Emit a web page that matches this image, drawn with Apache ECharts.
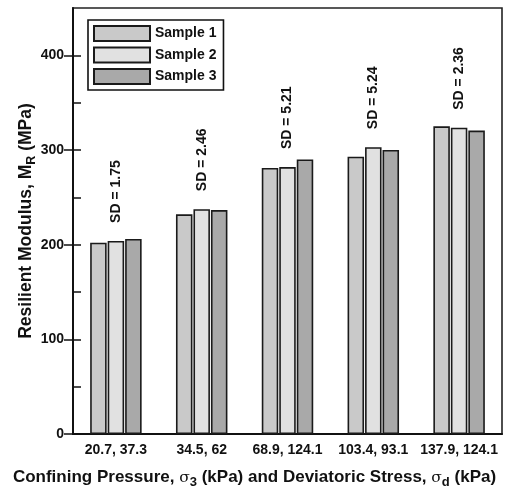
<!DOCTYPE html>
<html>
<head>
<meta charset="utf-8">
<script src="https://cdn.jsdelivr.net/npm/echarts@6/dist/echarts.min.js"></script>
<style>html,body{margin:0;padding:0;background:#fff}#c{width:522px;height:494px}</style>
</head>
<body>
<div id="c"></div>
<script>
const categories = ['20.7, 37.3', '34.5, 62', '68.9, 124.1', '103.4, 93.1', '137.9, 124.1'];
const sample1 = [202, 232, 281, 293, 325];
const sample2 = [204, 237.5, 282, 303, 323.5];
const sample3 = [206, 236.5, 290, 300, 320.5];
const sdLabels = ['SD = 1.75', 'SD = 2.46', 'SD = 5.21', 'SD = 5.24', 'SD = 2.36'];
const yTickLabels = [0, 100, 200, 300, 400];
const yMinorTicks = [0, 50, 100, 150, 200, 250, 300, 350, 400];
const seriesNames = ['Sample 1', 'Sample 2', 'Sample 3'];

const FONT = '"Liberation Sans", Arial, sans-serif';
const colors = ['#c9c9c9', '#e1e1e1', '#a9a9a9'];
const chart = echarts.init(document.getElementById('c'), null, {renderer: 'canvas'});

function barSeries(name, data, color, withLabel) {
  const s = {
    name: name,
    type: 'bar',
    yAxisIndex: 0,
    data: data,
    barWidth: 16.5,
    barGap: '6%',
    itemStyle: {color: color, borderColor: '#1a1a1a', borderWidth: 1.6},
    emphasis: {disabled: true},
    animation: false
  };
  if (withLabel) {
    s.label = {
      show: true,
      position: 'top',
      rotate: 90,
      align: 'left',
      verticalAlign: 'middle',
      distance: 18,
      fontFamily: FONT,
      fontWeight: 'bold',
      fontSize: 14,
      color: '#111',
      formatter: p => sdLabels[p.dataIndex]
    };
  }
  return s;
}

chart.setOption({
  backgroundColor: '#fff',
  animation: false,
  grid: {left: 73, right: 20, top: 8, bottom: 59, show: true, borderColor: '#222', borderWidth: 1.6, backgroundColor: 'transparent'},
  legend: {
    orient: 'vertical',
    left: 88, top: 20,
    data: seriesNames,
    icon: 'rect',
    itemWidth: 56, itemHeight: 15, itemGap: 4.5,
    padding: [5, 7, 5, 5],
    borderColor: '#111', borderWidth: 1.6,
    textStyle: {fontFamily: FONT, fontWeight: 'bold', fontSize: 14, color: '#111'},
    selectedMode: false
  },
  xAxis: {
    type: 'category',
    data: categories,
    boundaryGap: true,
    axisLine: {lineStyle: {color: '#111', width: 2}},
    axisTick: {show: false},
    axisLabel: {fontFamily: FONT, fontWeight: 'bold', fontSize: 14, color: '#111', margin: 9, interval: 0},
    name: '{a|Confining Pressure, }{g|σ}{s|3}{a| (kPa) and Deviatoric Stress, }{g|σ}{s|d}{a| (kPa)}',
    nameLocation: 'middle',
    nameGap: 32,
    nameMoveOverlap: false,
    nameTextStyle: {
      padding: [0, 66, 0, 0],
      rich: {
        a: {fontFamily: FONT, fontWeight: 'bold', fontSize: 17, color: '#111', lineHeight: 23},
        g: {fontFamily: '"DejaVu Serif", serif', fontSize: 15.5, color: '#111', lineHeight: 23},
        s: {fontFamily: FONT, fontWeight: 'bold', fontSize: 13, color: '#111', lineHeight: 13, verticalAlign: 'bottom'}
      }
    }
  },
  yAxis: [{
    type: 'value',
    min: 0, max: 450, interval: 50,
    axisLine: {show: true, lineStyle: {color: '#111', width: 2}},
    axisTick: {show: true, inside: true, length: 8, lineStyle: {color: '#111', width: 1.5}, customValues: yMinorTicks},
    axisLabel: {fontFamily: FONT, fontWeight: 'bold', fontSize: 14, color: '#111', margin: 9, customValues: yTickLabels},
    splitLine: {show: false},
    name: '{a|Resilient Modulus, M}{s|R}{a| (MPa)}',
    nameLocation: 'middle',
    nameGap: 35,
    nameRotate: 90,
    nameMoveOverlap: false,
    nameTextStyle: {
      rich: {
        a: {fontFamily: FONT, fontWeight: 'bold', fontSize: 17.5, color: '#111', lineHeight: 24},
        s: {fontFamily: FONT, fontWeight: 'bold', fontSize: 12.5, color: '#111', lineHeight: 12, verticalAlign: 'bottom'}
      }
    }
  }, {
    type: 'value',
    position: 'left',
    min: 0, max: 450, interval: 50,
    axisLine: {show: false},
    axisTick: {show: true, inside: false, length: 9, lineStyle: {color: '#111', width: 1.5}, customValues: yTickLabels},
    axisLabel: {show: false},
    splitLine: {show: false}
  }],
  series: [
    barSeries(seriesNames[0], sample1, colors[0], false),
    barSeries(seriesNames[1], sample2, colors[1], true),
    barSeries(seriesNames[2], sample3, colors[2], false)
  ]
});
</script>
</body>
</html>
